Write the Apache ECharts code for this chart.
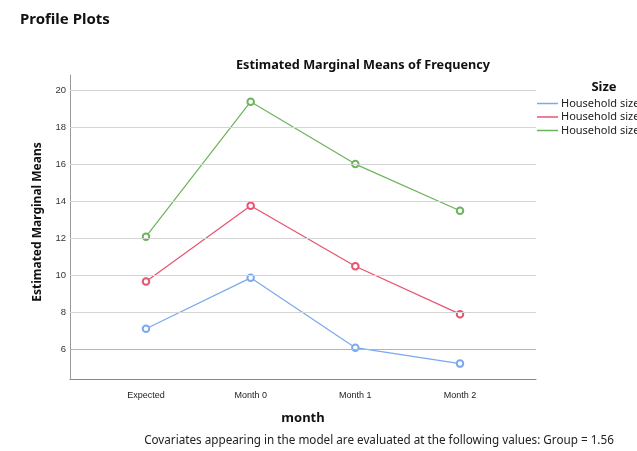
<!DOCTYPE html>
<html>
<head>
<meta charset="utf-8">
<script src="https://cdn.jsdelivr.net/npm/echarts@6/dist/echarts.min.js"></script>
<style>
  html, body { margin: 0; padding: 0; background: #fff; }
  #main { width: 637px; height: 451px; }
</style>
</head>
<body>
<div id="main"></div>
<script>
// categories on the x axis
var categories = ['Expected', 'Month 0', 'Month 1', 'Month 2'];
// legend groups
var sizeGroups = ['Household size 1-2', 'Household size 3-4', 'Household size 5+'];
// estimated marginal means per group
var sizeSmall = [7.11, 9.86, 6.09, 5.23];
var sizeMedium = [9.66, 13.75, 10.49, 7.90];
var sizeLarge = [12.08, 19.37, 16.00, 13.48];
// y tick labels
var yTicks = [6, 8, 10, 12, 14, 16, 18, 20];

var colors = ['#7aa9ee', '#e8536f', '#6db35b'];
var groupValues = [sizeSmall, sizeMedium, sizeLarge];

var chart = echarts.init(document.getElementById('main'));

var series = [];
// grid lines (drawn from the tick list)
series.push({
  type: 'line',
  name: 'grid',
  data: [],
  z: 1,
  silent: true,
  markLine: {
    silent: true,
    symbol: 'none',
    label: { show: false },
    animation: false,
    data: yTicks.map(function (v) {
      return {
        yAxis: v,
        lineStyle: { color: v === 6 ? '#b4b4b4' : '#d4d4d4', width: 1, type: 'solid' }
      };
    })
  }
});
for (var g = 0; g < sizeGroups.length; g++) {
  series.push({
    type: 'line',
    name: sizeGroups[g],
    z: 3,
    data: groupValues[g].map(function (v, i) { return [i, v]; }),
    symbol: 'emptyCircle',
    symbolSize: 6.5,
    showAllSymbol: true,
    color: colors[g],
    lineStyle: { color: colors[g], width: 1.2 },
    itemStyle: { color: colors[g], borderWidth: 0.8 }
  });
}

var option = {
  animation: false,
  backgroundColor: '#fff',
  title: [
    {
      text: 'Profile Plots',
      left: 20, top: 12, padding: 0,
      textStyle: { fontFamily: 'Noto Sans', fontWeight: 'bold', fontSize: 15, color: '#111' }
    },
    {
      text: 'Estimated Marginal Means of Frequency',
      left: 363, top: 59, padding: 0, textAlign: 'center',
      textStyle: { fontFamily: 'Noto Sans', fontWeight: 'bold', fontSize: 12.7, color: '#111' }
    },
    {
      text: 'Size',
      left: 604, top: 81, padding: 0, textAlign: 'center',
      textStyle: { fontFamily: 'Noto Sans', fontWeight: 'bold', fontSize: 13, color: '#111' }
    },
    {
      text: 'Covariates appearing in the model are evaluated at the following values: Group = 1.56',
      left: 379, top: 435, padding: 0, textAlign: 'center',
      textStyle: { fontFamily: 'Noto Sans', fontWeight: 'normal', fontSize: 11.7, color: '#222' }
    }
  ],
  legend: {
    data: sizeGroups,
    orient: 'vertical',
    left: 537, top: 98,
    padding: 0,
    itemWidth: 21, itemHeight: 1.5,
    itemGap: 2.5,
    icon: 'rect',
    itemStyle: { borderWidth: 0 },
    textStyle: { fontFamily: 'Noto Sans', fontSize: 11, color: '#222', padding: [0, 0, 0, -2] }
  },
  grid: { left: 70, right: 101, top: 75, bottom: 72 },
  xAxis: {
    type: 'value',
    min: -0.726, max: 3.726,
    name: 'month',
    nameLocation: 'middle',
    nameGap: 33,
    nameTextStyle: { fontFamily: 'Noto Sans', fontWeight: 'bold', fontSize: 13, color: '#111' },
    axisLine: { show: true, onZero: false, lineStyle: { color: '#888', width: 1 } },
    axisTick: { show: false },
    splitLine: { show: false },
    axisLabel: {
      customValues: [0, 1, 2, 3],
      formatter: function (v) { return categories[Math.round(v)]; },
      margin: 12,
      fontFamily: 'Liberation Sans', fontSize: 9, color: '#222'
    }
  },
  yAxis: {
    type: 'value',
    min: 4.40, max: 20.81,
    name: 'Estimated Marginal Means',
    nameLocation: 'middle',
    nameGap: 26,
    nameTextStyle: { fontFamily: 'Noto Sans', fontWeight: 'bold', fontSize: 12, color: '#111', padding: [0, 0, 0, 10] },
    axisLine: { show: true, onZero: false, lineStyle: { color: '#999', width: 1 } },
    axisTick: { show: false },
    splitLine: { show: false },
    axisLabel: {
      customValues: yTicks,
      margin: 4,
      fontFamily: 'Liberation Sans', fontSize: 9.5, color: '#333'
    }
  },
  series: series
};

chart.setOption(option);
</script>
</body>
</html>
